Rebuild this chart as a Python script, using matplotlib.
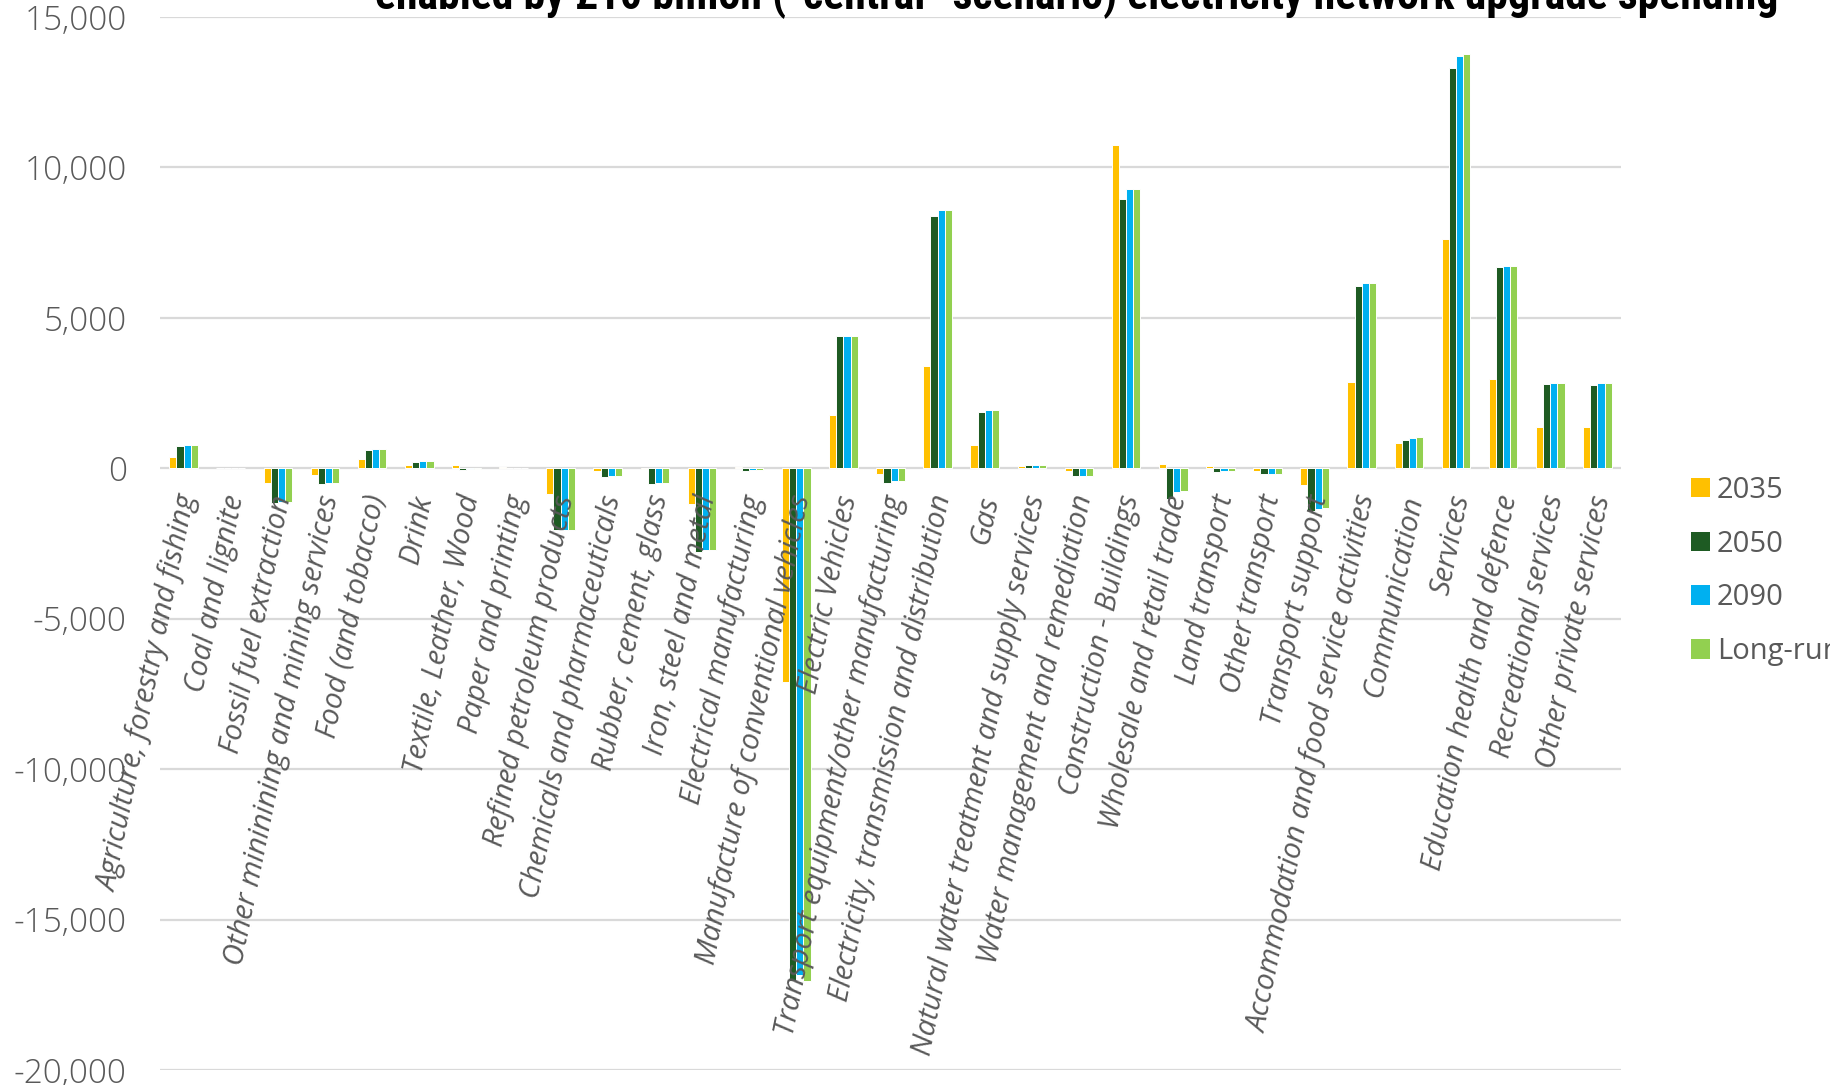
import matplotlib
matplotlib.use('Agg')
import matplotlib.pyplot as plt
import matplotlib.transforms as mtransforms
from matplotlib.patches import Patch
from matplotlib.ticker import FuncFormatter
import numpy as np

# sectors along the category axis
sectors = ['Agriculture, forestry and fishing', 'Coal and lignite', 'Fossil fuel extraction',
           'Other mininining and mining services', 'Food (and tobacco)', 'Drink',
           'Textile, Leather, Wood', 'Paper and printing', 'Refined petroleum products',
           'Chemicals and pharmaceuticals', 'Rubber, cement, glass', 'Iron, steel and metal',
           'Electrical manufacturing', 'Manufacture of conventional vehicles', 'Electric Vehicles',
           'Transport equipment/other manufacturing', 'Electricity, transmission and distribution',
           'Gas', 'Natural water treatment and supply services', 'Water management and remediation',
           'Construction - Buildings', 'Wholesale and retail trade', 'Land transport',
           'Other transport', 'Transport support', 'Accommodation and food service activities',
           'Communication', 'Services', 'Education health and defence', 'Recreational services',
           'Other private services']

# values
y2035 = [370, 0, -480, -210, 300, 110, 110, 30, -845, -100, -20, -1200, 45, -7090, 1780, -180,
         3385, 780, 65, -80, 10750, 135, 80, -90, -555, 2885, 845, 7625, 2985, 1375, 1375]
y2050 = [735, 0, -1155, -520, 610, 220, -45, 5, -2045, -280, -510, -2780, -75, -17030, 4410, -500,
         8395, 1885, 110, -245, 8950, -1030, -120, -190, -1420, 6055, 930, 13290, 6685, 2795, 2775]
y2090 = [765, 0, -1135, -490, 635, 235, -30, 5, -2045, -255, -480, -2720, -55, -16850, 4410, -410,
         8595, 1950, 110, -245, 9280, -785, -80, -190, -1340, 6155, 1010, 13690, 6730, 2830, 2820]
ylong = [765, 0, -1135, -490, 645, 235, -30, 5, -2045, -255, -480, -2720, -55, -17050, 4410, -410,
         8595, 1950, 110, -245, 9270, -765, -80, -190, -1330, 6155, 1030, 13755, 6730, 2830, 2820]

series_names = ['2035', '2050', '2090', 'Long-run']
colors = ['#FFC000', '#1E5B23', '#00B0F0', '#92D050']
grey = '#595959'

fig = plt.figure(figsize=(18.31, 10.85), dpi=100)
ax = fig.add_axes([0.0874, 0.0138, 0.7979, 0.9705])

x = np.arange(len(sectors))
w = 0.152
for i, vals in enumerate([y2035, y2050, y2090, ylong]):
    ax.bar(x + (i - 1.5) * w, vals, width=w, color=colors[i], edgecolor='white',
           linewidth=0.7, zorder=3)

ax.set_xlim(-0.5, len(sectors) - 0.5)
ax.set_ylim(-20000, 15000)
ax.set_yticks(range(-20000, 15001, 5000))
ax.yaxis.set_major_formatter(FuncFormatter(lambda v, p: f'{int(v):,}'))
ax.grid(axis='y', color='#D9D9D9', linewidth=1.6, zorder=0)
ax.set_axisbelow(True)
for s in ax.spines.values():
    s.set_visible(False)
ax.tick_params(axis='y', length=0, pad=24, labelsize=24, labelcolor=grey)
ax.tick_params(axis='x', length=0, labelbottom=False)
for lab in ax.get_yticklabels():
    lab.set_fontfamily('Open Sans')
    lab.set_fontweight('light')

# category labels sit just under the zero line
offset = mtransforms.ScaledTranslation(0.05, -0.27, fig.dpi_scale_trans)
for xi, name in zip(x, sectors):
    ax.text(xi, 0, name, transform=ax.transData + offset, rotation=78.5,
            rotation_mode='anchor', ha='right', va='center', fontsize=21,
            color=grey, family='Open Sans', style='italic', zorder=4)

# legend on the right
handles = [Patch(facecolor=c, edgecolor='none') for c in colors]
fig.legend(handles, series_names, loc='upper left', bbox_to_anchor=(0.9155, 0.575),
           frameon=False, handlelength=0.65, handleheight=0.65,
           handletextpad=0.25, labelspacing=0.85, borderpad=0,
           prop={'family': 'Open Sans', 'size': 21}, labelcolor=grey)

# title is partly cut off at the top in the original
fig.text(0.588, 0.9915, 'enabled by £10 billion (“central” scenario) electricity network upgrade spending',
         ha='center', va='baseline', fontsize=31.5, fontweight='bold',
         family=['Liberation Sans Narrow', 'Roboto Condensed', 'Roboto'], color='black')

fig.savefig('out.png', dpi=100)
